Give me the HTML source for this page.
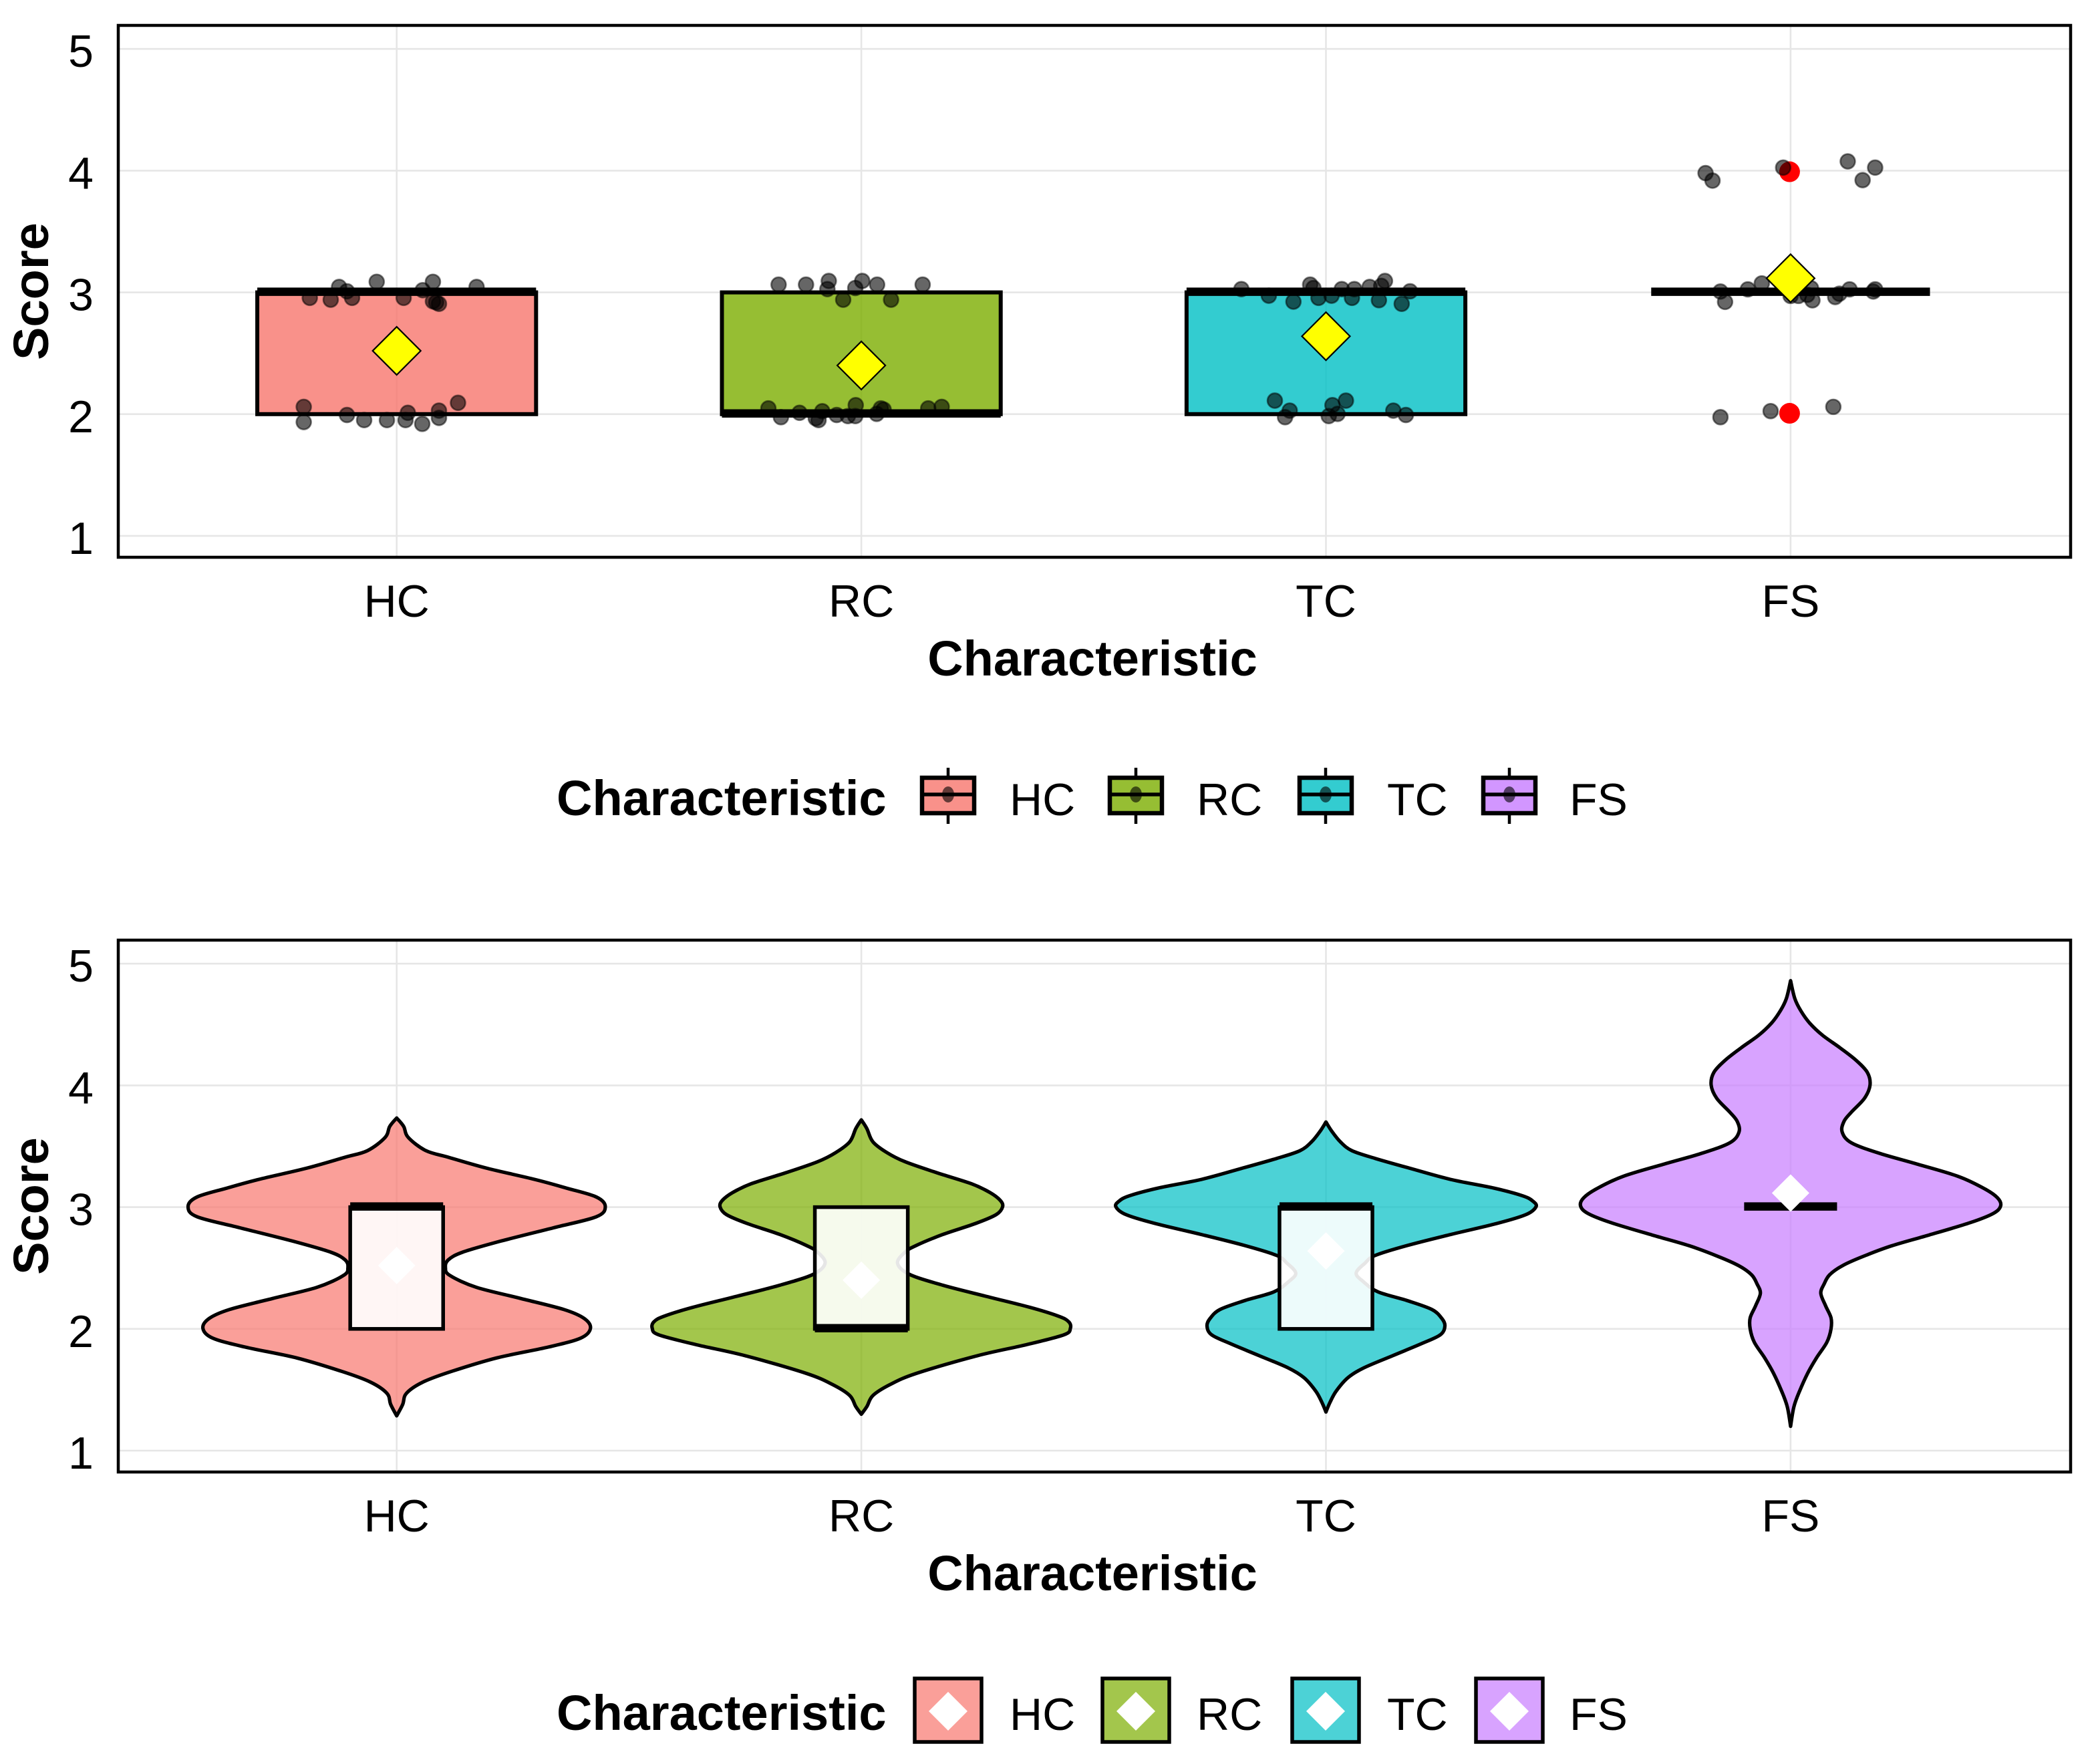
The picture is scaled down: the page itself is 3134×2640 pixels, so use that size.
<!DOCTYPE html>
<html lang="en">
<head>
<meta charset="utf-8">
<title>Score by characteristic: box and violin plots</title>
<style>
html,body{margin:0;padding:0;background:#fff;}
svg{display:block;}
text{font-family:"Liberation Sans",sans-serif;fill:#000;}
.title{font-weight:bold;font-size:74px;}
.tick{font-size:68px;}
</style>
</head>
<body>
<svg id="chart" xmlns="http://www.w3.org/2000/svg" width="3134" height="2640" viewBox="0 0 3134 2640">
  <rect x="0" y="0" width="3134" height="2640" fill="#ffffff"/>
  <g id="panel-top"></g>
  <g id="panel-bottom"></g>

  <text class="title" transform="translate(72,436) rotate(-90)" text-anchor="middle">Score</text>
  <text class="title" x="1635" y="1011" text-anchor="middle">Characteristic</text>
  <text class="title" transform="translate(72,1805) rotate(-90)" text-anchor="middle">Score</text>
  <text class="title" x="1635" y="2380" text-anchor="middle">Characteristic</text>

  <g id="legend-top">
    <text class="title" x="833" y="1220">Characteristic</text>
    <text class="tick" x="1511" y="1220">HC</text>
    <text class="tick" x="1791" y="1220">RC</text>
    <text class="tick" x="2076" y="1220">TC</text>
    <text class="tick" x="2349" y="1220">FS</text>
  </g>
  <g id="legend-bottom">
    <text class="title" x="833" y="2589">Characteristic</text>
    <text class="tick" x="1511" y="2589">HC</text>
    <text class="tick" x="1791" y="2589">RC</text>
    <text class="tick" x="2076" y="2589">TC</text>
    <text class="tick" x="2349" y="2589">FS</text>
  </g>
</svg>
<script>
// ---------- data ----------
const categories = ["HC", "RC", "TC", "FS"];
const yTickValues = [1, 2, 3, 4, 5];
const yTickLabels = ["1", "2", "3", "4", "5"];
const fillColors = ["#F8766D", "#7CAE00", "#00BFC4", "#C77CFF"];

const boxQ1 = [2, 2, 2, 3];
const boxMedian = [3, 2, 3, 3];
const boxQ3 = [3, 3, 3, 3];
const means = [2.52, 2.40, 2.64, 3.116];

const outlierScores = [3.991, 2.007];

const hcJitter = [-.124,-.107,-.043,.078,.056,.172,-.187,-.142,-.096,.015,.078,.091,.085,-.200,-.200,-.107,-.070,-.021,.019,.024,.055,.091,.091,.132];
const hcScores = [3.045,3.009,3.087,3.087,3.018,3.045,2.955,2.940,2.955,2.955,2.927,2.906,2.918,2.060,1.935,1.993,1.951,1.951,1.951,2.011,1.920,2.029,1.969,2.093];
const rcJitter = [-.178,-.119,-.070,-.073,.002,-.013,.034,.132,-.039,.064,-.200,-.173,-.133,-.098,-.092,-.084,-.012,-.053,-.029,-.013,.033,.042,.048,.144,.173];
const rcScores = [3.064,3.064,3.094,3.027,3.094,3.036,3.064,3.064,2.940,2.940,2.047,1.975,2.011,1.966,1.951,2.024,2.074,1.993,1.984,1.984,2.002,2.047,2.038,2.047,2.060];
const tcJitter = [-.182,-.123,-.070,-.034,-.027,-.016,.012,.034,.061,.056,.094,.127,.119,.114,.163,.181,-.110,-.078,-.088,.014,.043,.006,.025,.145,.172];
const tcScores = [3.027,2.973,2.924,3.064,3.036,2.955,2.973,3.027,3.027,2.955,3.045,3.094,3.054,2.936,2.906,3.009,2.111,2.029,1.975,2.074,2.111,1.984,2.002,2.029,1.993];
const fsJitter = [-.183,-.168,-.016,.123,.182,.155,-.151,-.141,-.092,-.062,0,.017,.047,.044,.036,.096,.105,.127,.182,.178,-.151,-.043,.092];
const fsScores = [3.980,3.918,4.025,4.076,4.025,3.922,3.007,2.922,3.025,3.074,2.971,2.971,2.935,3.034,2.980,2.962,2.989,3.025,3.025,3.007,1.975,2.025,2.060];

const hcViolinScores = [3.732,3.663,3.572,3.464,3.409,3.319,3.228,3.156,3.083,3.002,2.920,2.830,2.721,2.630,2.567,2.504,2.440,2.341,2.250,2.159,2.087,2.005,1.924,1.851,1.761,1.652,1.562,1.471,1.380,1.286];
const hcViolinDensity = [0,.015,.025,.063,.112,.195,.297,.366,.430,.449,.429,.337,.224,.142,.111,.105,.114,.172,.267,.360,.403,.417,.396,.327,.215,.119,.056,.021,.013,0];
const rcViolinScores = [3.717,3.645,3.536,3.446,3.373,3.283,3.192,3.120,3.056,3.002,2.938,2.866,2.775,2.685,2.630,2.540,2.449,2.359,2.268,2.178,2.105,2.060,2.005,1.951,1.870,1.779,1.634,1.543,1.453,1.362,1.299];
const rcViolinDensity = [0,.012,.025,.056,.094,.162,.237,.277,.299,.304,.290,.246,.175,.118,.094,.078,.103,.175,.268,.362,.424,.446,.450,.436,.355,.249,.118,.062,.025,.012,0];
const tcViolinScores = [3.699,3.627,3.536,3.464,3.400,3.319,3.228,3.156,3.092,3.047,3.002,2.938,2.866,2.775,2.685,2.603,2.540,2.458,2.386,2.304,2.232,2.159,2.087,2.024,1.951,1.879,1.779,1.679,1.598,1.489,1.399,1.317];
const tcViolinDensity = [0,.012,.031,.056,.106,.181,.268,.362,.424,.446,.452,.430,.368,.268,.175,.106,.084,.065,.081,.112,.175,.228,.249,.256,.246,.206,.143,.081,.047,.022,.009,0];
const fsViolinScores = [4.860,4.714,4.613,4.512,4.411,4.310,4.209,4.108,4.003,3.894,3.781,3.705,3.617,3.528,3.440,3.352,3.251,3.150,3.074,3.009,2.948,2.873,2.772,2.683,2.595,2.520,2.444,2.368,2.293,2.192,2.091,2.000,1.889,1.763,1.637,1.486,1.359,1.200];
const fsViolinDensity = [0,.009,.022,.041,.069,.106,.140,.165,.171,.159,.131,.115,.111,.131,.193,.274,.362,.418,.446,.452,.436,.387,.299,.218,.156,.112,.084,.072,.065,.075,.087,.087,.078,.056,.037,.019,.007,0];

// ---------- series groupings ----------
const jitterSets = [hcJitter, rcJitter, tcJitter, fsJitter];
const scoreSets = [hcScores, rcScores, tcScores, fsScores];
const violinScoreSets = [hcViolinScores, rcViolinScores, tcViolinScores, fsViolinScores];
const violinDensitySets = [hcViolinDensity, rcViolinDensity, tcViolinDensity, fsViolinDensity];

// ---------- axis functions ----------
const NS = "http://www.w3.org/2000/svg";
const PANEL_LEFT = 177, PANEL_RIGHT = 3099, PANEL_TOP = 38, PANEL_BOTTOM = 834, PANEL_SHIFT = 1369;
const X_ORIGIN = 593.7, X_STEP = 695.4;
function xScale(pos) { return X_ORIGIN + pos * X_STEP; }
function yScale(v, shift) { return 619.8 - (v - 2) * 182.2 + shift; }

function make(tag, attrs, parent) {
  const el = document.createElementNS(NS, tag);
  for (const k in attrs) el.setAttribute(k, attrs[k]);
  parent.appendChild(el);
  return el;
}
function diamondPoints(cx, cy, r) {
  return [[cx, cy - r], [cx + r, cy], [cx, cy + r], [cx - r, cy]].map(p => p.join(",")).join(" ");
}
// Smooth curve through a list of [x, y] screen points, sharp at both ends.
function smoothSegment(pts) {
  let d = "";
  for (let i = 0; i < pts.length - 1; i++) {
    const p0 = pts[Math.max(i - 1, 0)], p1 = pts[i], p2 = pts[i + 1], p3 = pts[Math.min(i + 2, pts.length - 1)];
    const c1x = p1[0] + (p2[0] - p0[0]) / 6, c1y = p1[1] + (p2[1] - p0[1]) / 6;
    const c2x = p2[0] - (p3[0] - p1[0]) / 6, c2y = p2[1] - (p3[1] - p1[1]) / 6;
    d += " C" + c1x.toFixed(1) + "," + c1y.toFixed(1) + " " + c2x.toFixed(1) + "," + c2y.toFixed(1) + " " + p2[0].toFixed(1) + "," + p2[1].toFixed(1);
  }
  return d;
}

function drawFrame(g, shift) {
  yTickValues.forEach((v, i) => {
    const line = make("line", {x1: PANEL_LEFT, x2: PANEL_RIGHT, y1: yScale(v, shift), y2: yScale(v, shift), stroke: "#e6e6e6", "stroke-width": 2.6}, g);
    
    
    const label = make("text", {x: 140, y: yScale(v, shift) + 27, "text-anchor": "end", class: "tick"}, g);
    
    
    label.textContent = yTickLabels[i];
  });
  categories.forEach((c, i) => {
    const line = make("line", {x1: xScale(i), x2: xScale(i), y1: PANEL_TOP + shift, y2: PANEL_BOTTOM + shift, stroke: "#e6e6e6", "stroke-width": 2.6}, g);
    
    
    const label = make("text", {x: xScale(i), y: 923 + shift, "text-anchor": "middle", class: "tick"}, g);
    
    
    label.textContent = c;
  });
}
function drawBorder(g, shift) {
  const border = make("rect", {x: PANEL_LEFT, y: PANEL_TOP + shift, width: PANEL_RIGHT - PANEL_LEFT, height: PANEL_BOTTOM - PANEL_TOP, fill: "none", stroke: "#000", "stroke-width": 4.5}, g);
  
  
}

function drawBox(g, i, shift, halfWidth, strokeW, medianW, fill, fillOpacity) {
  const cx = xScale(i);
  const top = yScale(boxQ3[i], shift), bottom = yScale(boxQ1[i], shift), med = yScale(boxMedian[i], shift);
  const rect = make("rect", {x: cx - halfWidth, y: top, width: 2 * halfWidth, height: bottom - top, fill: fill, "fill-opacity": fillOpacity, stroke: "#000", "stroke-width": strokeW}, g);
  
  
  const m = make("line", {x1: cx - halfWidth, x2: cx + halfWidth, y1: med - 1, y2: med - 1, stroke: "#000", "stroke-width": medianW}, g);
  
  
}

// ---------- top panel: box plot with jittered points ----------
const top_ = document.getElementById("panel-top");
drawFrame(top_, 0);
categories.forEach((c, i) => {
  drawBox(top_, i, 0, 0.3 * X_STEP, 6, 12.5, fillColors[i], 0.8);
});
outlierScores.forEach(s => {
  const o = make("circle", {cx: xScale(3) - 1.5, cy: yScale(s, 0), r: 15.5, fill: "#ff0000"}, top_);
  
  
});
categories.forEach((c, i) => {
  jitterSets[i].forEach((j, k) => {
    const p = make("circle", {cx: xScale(i + j), cy: yScale(scoreSets[i][k], 0), r: 11, fill: "#000", "fill-opacity": 0.6, stroke: "#000", "stroke-opacity": 0.5, "stroke-width": 2.6}, top_);
    
    
  });
});
means.forEach((m, i) => {
  const d = make("polygon", {points: diamondPoints(xScale(i), yScale(m, 0), 36), fill: "#ffff00", stroke: "#000", "stroke-width": 2.2}, top_);
  
  
});
drawBorder(top_, 0);

// ---------- bottom panel: violin plot ----------
const bot = document.getElementById("panel-bottom");
drawFrame(bot, PANEL_SHIFT);
categories.forEach((c, i) => {
  const scores = violinScoreSets[i], dens = violinDensitySets[i];
  const right = scores.map((s, k) => [xScale(i + dens[k]), yScale(s, PANEL_SHIFT)]);
  const left = scores.map((s, k) => [xScale(i - dens[k]), yScale(s, PANEL_SHIFT)]).reverse();
  const d = "M" + right[0][0].toFixed(1) + "," + right[0][1].toFixed(1) + smoothSegment(right) + smoothSegment(left) + " Z";
  const v = make("path", {d: d, fill: fillColors[i], "fill-opacity": 0.7, stroke: "#000", "stroke-width": 5.2, "stroke-linejoin": "round"}, bot);
  
  
});
categories.forEach((c, i) => {
  drawBox(bot, i, PANEL_SHIFT, 0.1 * X_STEP, 5.5, 12.5, "#ffffff", 0.9);
});
means.forEach((m, i) => {
  const d = make("polygon", {points: diamondPoints(xScale(i), yScale(m, PANEL_SHIFT), 28), fill: "#ffffff"}, bot);
  
  
});
drawBorder(bot, PANEL_SHIFT);

// ---------- legends ----------
const legendKeyCentres = [1419, 1700, 1984, 2259];
const legTop = document.getElementById("legend-top");
const legBottom = document.getElementById("legend-bottom");
categories.forEach((c, i) => {
  const cx = legendKeyCentres[i];
  const w = make("line", {x1: cx, x2: cx, y1: 1149, y2: 1233, stroke: "#000", "stroke-width": 4.5}, legTop);
  
  
  const b = make("rect", {x: cx - 39, y: 1164, width: 78, height: 53, fill: "#fff", stroke: "none"}, legTop);
  
  
  const r = make("rect", {x: cx - 39, y: 1164, width: 78, height: 53, fill: fillColors[i], "fill-opacity": 0.8, stroke: "#000", "stroke-width": 6.5}, legTop);
  
  
  const m = make("line", {x1: cx - 39, x2: cx + 39, y1: 1189, y2: 1189, stroke: "#000", "stroke-width": 5.5}, legTop);
  
  
  const d = make("ellipse", {cx: cx, cy: 1189, rx: 9, ry: 12, fill: "#000", "fill-opacity": 0.6}, legTop);
  
  

  const k = make("rect", {x: cx - 50, y: 2512, width: 100, height: 95, fill: fillColors[i], "fill-opacity": 0.7, stroke: "#000", "stroke-width": 5.5}, legBottom);
  
  
  const q = make("polygon", {points: diamondPoints(cx, 2561, 29), fill: "#ffffff"}, legBottom);
  
  
});
</script>
</body>
</html>
